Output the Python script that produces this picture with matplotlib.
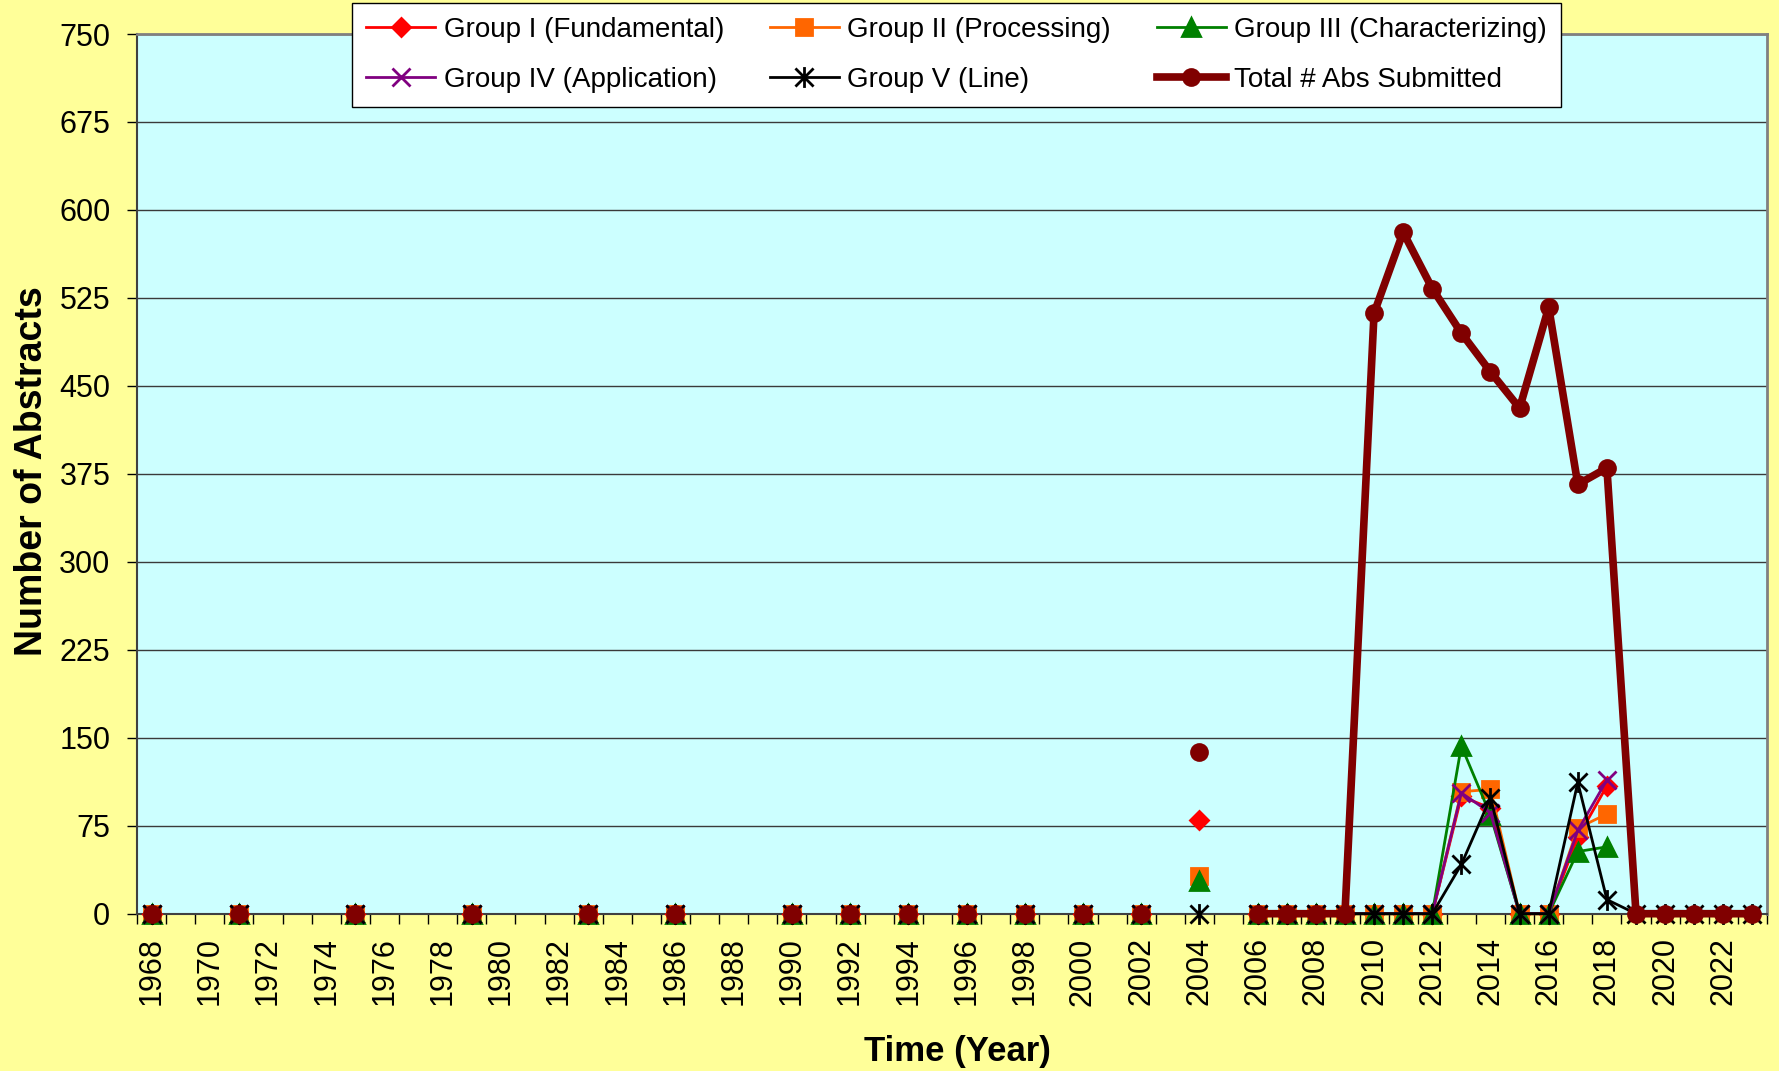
import numpy as np
import matplotlib
matplotlib.use("Agg")
import matplotlib.pyplot as plt
from matplotlib.path import Path
from matplotlib.ticker import FixedLocator

plt.rcParams["font.family"] = ["Liberation Sans", "DejaVu Sans"]

N = None
years = list(range(1968, 2024))

# one value per year 1968..2023, None = blank cell (no point)
group_i = [0, N, N, 0, N, N, N, 0, N, N,
           N, 0, N, N, N, 0, N, N, 0, N,
           N, N, 0, N, 0, N, 0, N, 0, N,
           0, N, 0, N, 0, N, 80, N, 0, 0,
           0, 0, 0, 0, 0, 100, 90, 0, 0, 65,
           109, N, N, N, N, N]
group_ii = [0, N, N, 0, N, N, N, 0, N, N,
            N, 0, N, N, N, 0, N, N, 0, N,
            N, N, 0, N, 0, N, 0, N, 0, N,
            0, N, 0, N, 0, N, 32, N, 0, 0,
            0, 0, 0, 0, 0, 104, 106, 0, 0, 73,
            85, N, N, N, N, N]
group_iii = [0, N, N, 0, N, N, N, 0, N, N,
             N, 0, N, N, N, 0, N, N, 0, N,
             N, N, 0, N, 0, N, 0, N, 0, N,
             0, N, 0, N, 0, N, 28, N, 0, 0,
             0, 0, 0, 0, 0, 143, 84, 0, 0, 53,
             57, N, N, N, N, N]
group_iv = [0, N, N, 0, N, N, N, 0, N, N,
            N, 0, N, N, N, 0, N, N, 0, N,
            N, N, 0, N, 0, N, 0, N, 0, N,
            0, N, 0, N, 0, N, N, N, 0, 0,
            0, 0, 0, 0, 0, 103, 86, 0, 0, 71,
            114, N, N, N, N, N]
group_v = [0, N, N, 0, N, N, N, 0, N, N,
           N, 0, N, N, N, 0, N, N, 0, N,
           N, N, 0, N, 0, N, 0, N, 0, N,
           0, N, 0, N, 0, N, 0, N, 0, 0,
           0, 0, 0, 0, 0, 42, 99, 0, 0, 112,
           12, 0, 0, 0, 0, 0]
total = [0, N, N, 0, N, N, N, 0, N, N,
         N, 0, N, N, N, 0, N, N, 0, N,
         N, N, 0, N, 0, N, 0, N, 0, N,
         0, N, 0, N, 0, N, 138, N, 0, 0,
         0, 0, 512, 581, 533, 495, 462, 431, 517, 366,
         380, 0, 0, 0, 0, 0]

y_ticks = list(range(0, 751, 75))
x_labels = list(range(1968, 2023, 2))

# excel style star marker: x plus vertical bar
star = Path([(-1, -1), (1, 1), (-1, 1), (1, -1), (0, -1.15), (0, 1.15)],
            [Path.MOVETO, Path.LINETO] * 3)

series = [
    ("Group I (Fundamental)", group_i, "#FF0000", "D", 9.5, 2),
    ("Group II (Processing)", group_ii, "#FF6600", "s", 11, 2),
    ("Group III (Characterizing)", group_iii, "#008000", "^", 13, 2),
    ("Group IV (Application)", group_iv, "#800080", "x", 12.5, 2),
    ("Group V (Line)", group_v, "#000000", star, 15, 2),
    ("Total # Abs Submitted", total, "#800000", "o", 11.5, 5.5),
]

fig = plt.figure(figsize=(17.79, 10.71), dpi=100)
fig.patch.set_facecolor("#FFFF99")
ax = fig.add_axes([137 / 1779, 1 - 913.7 / 1071, 1630 / 1779, 879.7 / 1071])
ax.set_facecolor("#CCFFFF")

handles = []
for name, vals, col, mk, ms, lw in series:
    h, = ax.plot(years, np.array(vals, dtype=float), color=col, lw=lw,
                 marker=mk, ms=ms, mfc=col, mec=col, mew=2,
                 label=name, clip_on=False, zorder=3)
    handles.append(h)

ax.set_xlim(1967.5, 2023.5)
ax.set_ylim(0, 750)
ax.set_yticks(y_ticks)
ax.set_yticklabels([str(v) for v in y_ticks])
ax.set_xticks(x_labels)
ax.set_xticklabels([str(v) for v in x_labels], rotation=90)
ax.xaxis.set_minor_locator(FixedLocator(np.arange(1967.5, 2024, 1)))

ax.tick_params(axis="y", which="major", length=7.2, width=1, direction="out",
               labelsize=22, pad=12)
ax.tick_params(axis="x", which="major", length=0, labelsize=22, pad=17)
ax.tick_params(axis="x", which="minor", length=7.2, width=1, direction="out")

ax.grid(axis="y", color="#3a3a3a", lw=1.0)
ax.set_axisbelow(True)

for s in ["left", "bottom"]:
    ax.spines[s].set_color("#404040")
    ax.spines[s].set_linewidth(1.5)
for s in ["top", "right"]:
    ax.spines[s].set_color("#808080")
    ax.spines[s].set_linewidth(2)

fig.text(32 / 1779, 1 - 471.5 / 1071, "Number of Abstracts", rotation=90,
         ha="center", va="center", fontsize=27, fontweight="bold")
fig.text(957 / 1779, 1 - 1061 / 1071, "Time (Year)", ha="center",
         va="baseline", fontsize=25, fontweight="bold")

order = [0, 3, 1, 4, 2, 5]
leg = fig.legend([handles[i] for i in order], [series[i][0] for i in order],
                 loc="upper left", bbox_to_anchor=(352 / 1779, 1 - 3 / 1071),
                 ncol=3, fontsize=20, frameon=True, fancybox=False,
                 edgecolor="black", facecolor="white", framealpha=1,
                 borderpad=0.5, labelspacing=0.86, handlelength=2.5,
                 handletextpad=0.3, columnspacing=1.64, borderaxespad=0)
leg.get_frame().set_linewidth(1)
leg.set_zorder(10)

fig.savefig("out.png", dpi=100, facecolor=fig.get_facecolor())
